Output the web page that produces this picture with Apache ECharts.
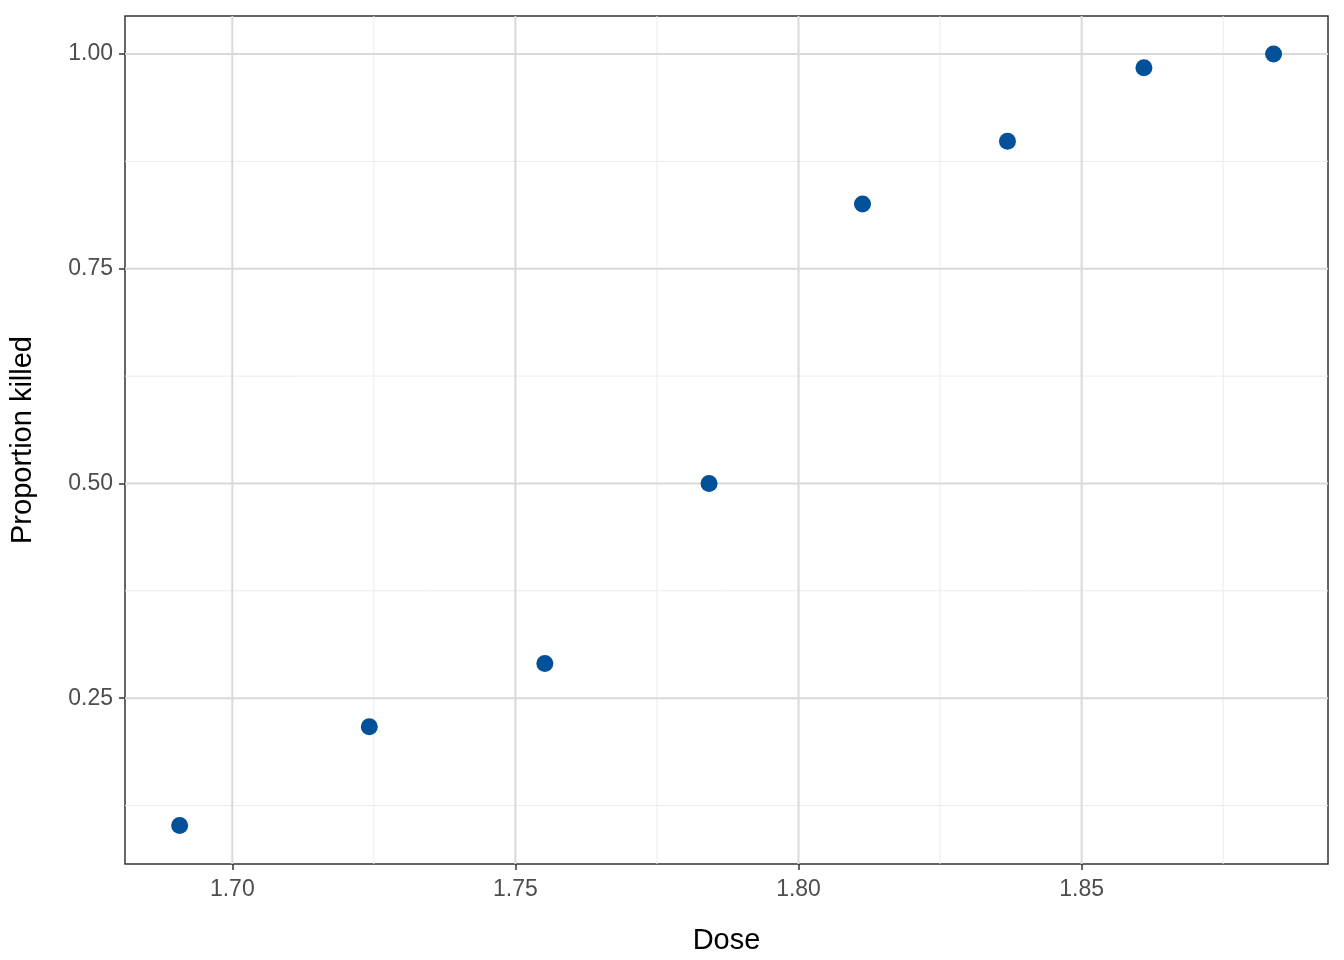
<!DOCTYPE html>
<html><head><meta charset="utf-8">
<script src="https://cdn.jsdelivr.net/npm/echarts@6/dist/echarts.min.js"></script>
<style>html,body{margin:0;padding:0;background:#fff}#c{width:1344px;height:960px}</style>
</head><body><div id="c"></div>
<script>
const dose = [1.6907, 1.7242, 1.7552, 1.7842, 1.8113, 1.8369, 1.8610, 1.8839];
const propKilled = [0.1017, 0.2167, 0.2903, 0.5, 0.8254, 0.8983, 0.9839, 1.0];
const xTicks = [1.70, 1.75, 1.80, 1.85];
const xMinor = [1.725, 1.775, 1.825, 1.875];
const yTicks = [0.25, 0.50, 0.75, 1.00];
const yMinor = [0.125, 0.375, 0.625, 0.875];
const xMin = 1.68105, xMax = 1.89351, yMin = 0.057, yMax = 1.0442;

const chart = echarts.init(document.getElementById('c'));
const font = 'Liberation Sans, Arial, sans-serif';
const gridSeries = [];
function vline(v, color, w) {
  gridSeries.push({type: 'line', data: [[v, yMin], [v, yMax]], symbol: 'none', silent: true, z: 1,
    lineStyle: {color: color, width: w, type: 'solid'}});
}
function hline(v, color, w) {
  gridSeries.push({type: 'line', data: [[xMin, v], [xMax, v]], symbol: 'none', silent: true, z: 1,
    lineStyle: {color: color, width: w, type: 'solid'}});
}
xMinor.forEach(v => vline(v, '#ebebeb', 1));
yMinor.forEach(v => hline(v, '#ebebeb', 1));
xTicks.forEach(v => vline(v, '#d9d9d9', 2));
yTicks.forEach(v => hline(v, '#d9d9d9', 2));
chart.setOption({
  animation: false,
  grid: {left: 118, right: 16, top: 16, bottom: 94, show: true, borderColor: '#333', borderWidth: 1.5},
  xAxis: {type: 'value', min: xMin, max: xMax,
    name: 'Dose', nameLocation: 'middle', nameGap: 62,
    nameTextStyle: {fontFamily: font, fontSize: 29, color: '#000'},
    axisLine: {show: false}, splitLine: {show: false}, minorSplitLine: {show: false},
    axisTick: {show: true, customValues: xTicks, length: 6, lineStyle: {color: '#333', width: 1.5}},
    axisLabel: {customValues: xTicks, formatter: v => v.toFixed(2), fontFamily: font, fontSize: 23, color: '#4d4d4d', margin: 14}
  },
  yAxis: {type: 'value', min: yMin, max: yMax,
    name: 'Proportion killed', nameLocation: 'middle', nameGap: 88,
    nameTextStyle: {fontFamily: font, fontSize: 29, color: '#000'},
    axisLine: {show: false}, splitLine: {show: false}, minorSplitLine: {show: false},
    axisTick: {show: true, customValues: yTicks, length: 6, lineStyle: {color: '#333', width: 1.5}},
    axisLabel: {customValues: yTicks, formatter: v => v.toFixed(2), fontFamily: font, fontSize: 23, color: '#4d4d4d', margin: 12}
  },
  series: gridSeries.concat([{
    type: 'scatter', data: dose.map((d, i) => [d, propKilled[i]]),
    symbolSize: 17, itemStyle: {color: '#00519a', opacity: 1}, z: 5
  }])
});
</script></body></html>
